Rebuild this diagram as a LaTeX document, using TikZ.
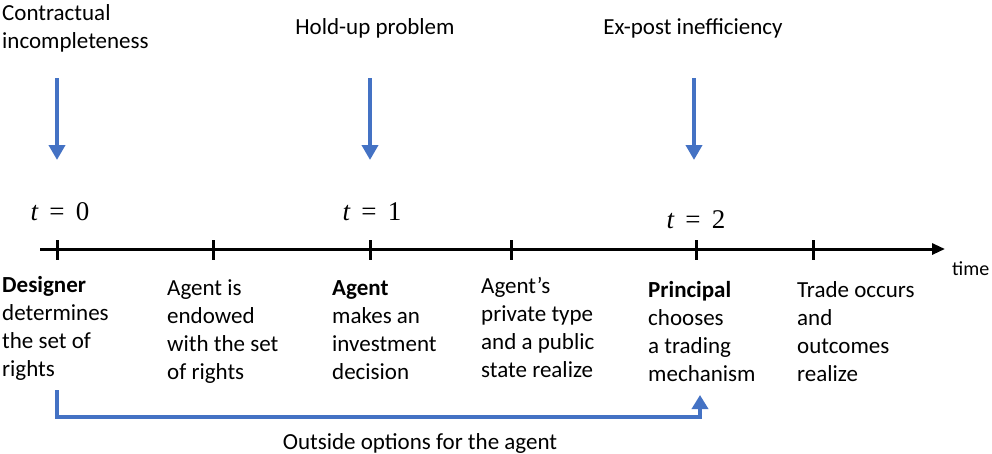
\documentclass[tikz,border=0pt]{standalone}
\usepackage{fontspec}
\setmainfont{Carlito}
\newfontfamily\mathlike{Liberation Serif}
\usetikzlibrary{arrows.meta}
\definecolor{obl}{HTML}{4472C4}
\newcommand{\teq}[1]{{\mathlike\itshape t\upshape\ \,=\ \,#1}}
\begin{document}
\begin{tikzpicture}[x=1pt,y=-1pt,
  txt/.style={font=\fontsize{23}{28}\selectfont, inner sep=0},
  blk/.style={txt, align=left, anchor=north west},
  mth/.style={font=\fontsize{27}{30}\selectfont, inner sep=0, anchor=base},
  axis/.style={line width=3pt},
  tick/.style={line width=3pt},
  bluearr/.style={draw=obl, line width=4.5pt, -{Triangle[length=15pt,width=16pt]}, color=obl},
]
\useasboundingbox (0,0) rectangle (992,453);

% timeline
\coordinate (ax0) at (40,249);
\coordinate (ax1) at (945,249);
\draw[axis, -{Triangle[length=13pt,width=11pt]}] (ax0) -- (ax1);
\foreach \n/\x in {0/57,1/213,2/370,3/511,4/696,5/813}{
  \coordinate (tk\n) at (\x,249);
  \draw[tick] (\x,240) -- (\x,260);
}
\node[font=\fontsize{20}{24}\selectfont, inner sep=0, anchor=base west] (time) at (952,275) {time};

% time labels
\node[mth] (m0) at (60,220) {\teq{0}};
\node[mth] (m1) at (372,220) {\teq{1}};
\node[mth] (m2) at (696,228) {\teq{2}};

% top labels
\node[blk] (top0) at (2,1) {\strut Contractual\\incompleteness};
\node[txt, anchor=base] (top1) at (375,34) {Hold-up problem};
\node[txt, anchor=base] (top2) at (693,34) {Ex-post inefficiency};

% blue arrows
\coordinate (a0s) at (57,78);  \coordinate (a0e) at (57,160);
\coordinate (a1s) at (370,78); \coordinate (a1e) at (370,160);
\coordinate (a2s) at (694,78); \coordinate (a2e) at (694,160);
\draw[bluearr] (a0s) -- (a0e);
\draw[bluearr] (a1s) -- (a1e);
\draw[bluearr] (a2s) -- (a2e);

% event texts
\node[blk] (e0) at (2,272.4) {\strut\textbf{Designer}\\determines\\the set of\\rights};
\node[blk] (e1) at (167,275.4) {\strut Agent is\\endowed\\with the set\\of rights};
\node[blk] (e2) at (332,275.4) {\strut\textbf{Agent}\\makes an\\investment\\decision};
\node[blk] (e3) at (481,273.4) {\strut Agent’s\\private type\\and a public\\state realize};
\node[blk] (e4) at (648,277.4) {\strut\textbf{Principal}\\chooses\\a trading\\mechanism};
\node[blk] (e5) at (797,277.4) {\strut Trade occurs\\and\\outcomes\\realize};

% outside options bracket
\coordinate (b0) at (57,390);
\coordinate (b1) at (700,395);
\draw[draw=obl, line width=4pt, -{Triangle[length=14pt,width=16pt]}, color=obl]
  (b0) -- (57,417) -- (700,417) -- (b1);
\node[txt, anchor=base] (out) at (420,449) {Outside options for the agent};
\end{tikzpicture}
\end{document}
